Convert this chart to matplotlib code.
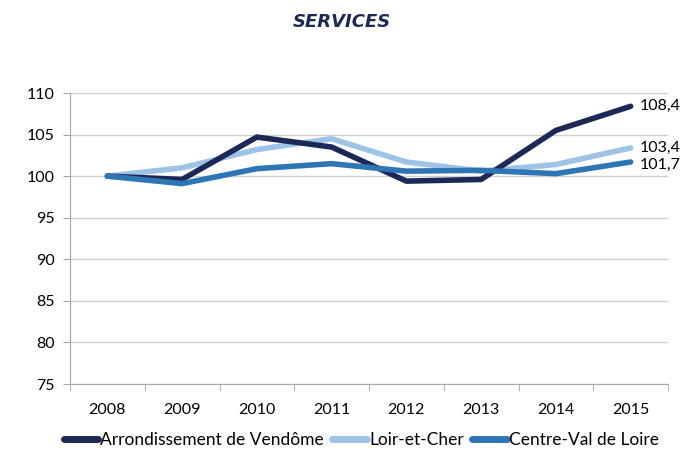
import matplotlib
matplotlib.use('Agg')
import matplotlib.pyplot as plt

years = ['2008', '2009', '2010', '2011', '2012', '2013', '2014', '2015']
vendome = [100.0, 99.6, 104.7, 103.5, 99.4, 99.6, 105.5, 108.4]
loir_et_cher = [100.0, 101.0, 103.2, 104.5, 101.7, 100.6, 101.4, 103.4]
centre_val = [100.0, 99.1, 100.9, 101.5, 100.6, 100.7, 100.3, 101.7]
end_labels = ['108,4', '103,4', '101,7']

plt.rcParams['font.family'] = ['Lato', 'DejaVu Sans']

fig = plt.figure(figsize=(6.84, 4.58), dpi=100)
ax = fig.add_axes([70/684, 1-384/458, (668-70)/684, (384-93)/458])

x = list(range(len(years)))
ax.plot(x, vendome, color='#1c2957', lw=4, solid_capstyle='round', label='Arrondissement de Vendôme', zorder=3)
ax.plot(x, loir_et_cher, color='#9dc3e6', lw=4, solid_capstyle='round', label='Loir-et-Cher', zorder=2)
ax.plot(x, centre_val, color='#2e75b6', lw=4, solid_capstyle='round', label='Centre-Val de Loire', zorder=4)

ax.text(x[-1] + 0.12, vendome[-1], end_labels[0], va='center', ha='left', fontsize=11.5)
ax.text(x[-1] + 0.12, loir_et_cher[-1], end_labels[1], va='center', ha='left', fontsize=11.5)
ax.text(x[-1] + 0.12, centre_val[-1] - 0.3, end_labels[2], va='center', ha='left', fontsize=11.5)

ax.set_xlim(-0.5, len(years) - 0.5)
ax.set_ylim(75, 110)
ax.set_yticks(range(75, 111, 5))
ax.set_xticks(x)
ax.set_xticklabels(years, fontsize=11.5)
ax.set_xticks([i + 0.5 for i in range(-1, len(years))], minor=True)
ax.tick_params(axis='x', which='major', length=0, pad=14)
ax.tick_params(axis='x', which='minor', length=5, color='#a6a6a6')
ax.tick_params(axis='y', length=5, color='#a6a6a6', labelsize=11.5, pad=6)
ax.yaxis.grid(True, color='#d0d0d0', lw=1)
ax.set_axisbelow(True)
for s in ['top', 'right']:
    ax.spines[s].set_visible(False)
for s in ['left', 'bottom']:
    ax.spines[s].set_color('#a6a6a6')

fig.text(0.5, 1-22/458, 'SERVICES', ha='center', va='center', fontsize=13,
         fontweight='bold', style='italic', color='#1c2957', family='DejaVu Sans')

leg = fig.legend(loc='center', bbox_to_anchor=(0.528, 1-440/458), ncol=3, frameon=False,
                 fontsize=12.5, handlelength=2.0, handletextpad=0.1, columnspacing=0.5)
for line in leg.get_lines():
    line.set_linewidth(5)
    line.set_solid_capstyle('round')

fig.savefig('out.png', dpi=100)
